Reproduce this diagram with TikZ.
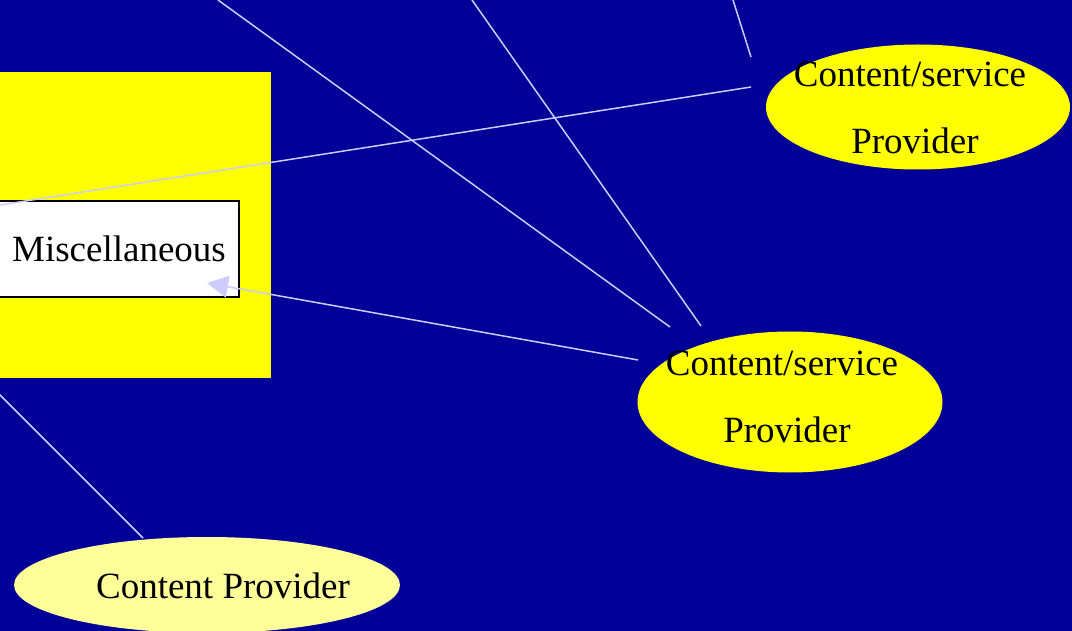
\documentclass[tikz,border=0pt]{standalone}
\usepackage{fontspec}
\setmainfont{Liberation Serif}
\usetikzlibrary{shapes.geometric,arrows.meta}
\definecolor{bgblue}{HTML}{000099}
\definecolor{linkcol}{HTML}{CCCCFF}
\definecolor{boxyellow}{HTML}{FFFF00}
\definecolor{paleyellow}{HTML}{FFFF99}
\tikzset{
  caption/.style={font=\fontsize{37}{44}\selectfont, inner sep=0pt, anchor=base, text=black},
  provider/.style={ellipse, fill=boxyellow, draw=none, inner sep=0pt},
  linkline/.style={draw=linkcol, line width=1.5pt},
}
\begin{document}
\begin{tikzpicture}[x=1pt,y=-1pt]
  % canvas
  \fill[bgblue] (0,0) rectangle (1072,631);
  \useasboundingbox (0,0) rectangle (1072,631);
  \clip (0,0) rectangle (1072,631);

  % yellow panel with the white box
  \node[fill=boxyellow, draw=none, inner sep=0pt, minimum width=291, minimum height=306] (panel) at (125.5,225) {};
  \node[fill=white, draw=black, line width=1.5pt, inner sep=0pt, minimum width=259, minimum height=96] (misc) at (109.5,249) {};
  \node[caption] (misctext) at (119,262) {Miscellaneous};

  % providers
  \node[provider, minimum width=304, minimum height=125] (cp1) at (918,107) {};
  \node[provider, minimum width=305, minimum height=141] (cp2) at (790,402) {};
  \node[provider, fill=paleyellow, minimum width=386, minimum height=96] (cp3) at (207,585) {};

  \node[caption] (cp1a) at (910,87) {Content/service};
  \node[caption] (cp1b) at (915,154) {Provider};
  \node[caption] (cp2a) at (782,375) {Content/service};
  \node[caption] (cp2b) at (787,442) {Provider};
  \node[caption] (cp3a) at (223,598) {Content Provider};

  % connector end points
  \coordinate (a0) at (218,0);    \coordinate (a1) at (670,327);
  \coordinate (b0) at (472,0);    \coordinate (b1) at (701,326);
  \coordinate (c0) at (733,0);    \coordinate (c1) at (751,57);
  \coordinate (d0) at (751,87);   \coordinate (d1) at (-19,208);
  \coordinate (e0) at (638,360);  \coordinate (e1) at (207,283);
  \coordinate (f0) at (-10,385);  \coordinate (f1) at (143,538);

  % connectors
  \draw[linkline] (a0) -- (a1);
  \draw[linkline] (b0) -- (b1);
  \draw[linkline] (c0) -- (c1);
  \draw[linkline] (d0) -- (d1);
  \draw[linkline, -{Triangle[length=21pt,width=22pt]}, fill=linkcol] (e0) -- (e1);
  \draw[linkline] (f0) -- (f1);
\end{tikzpicture}
\end{document}
